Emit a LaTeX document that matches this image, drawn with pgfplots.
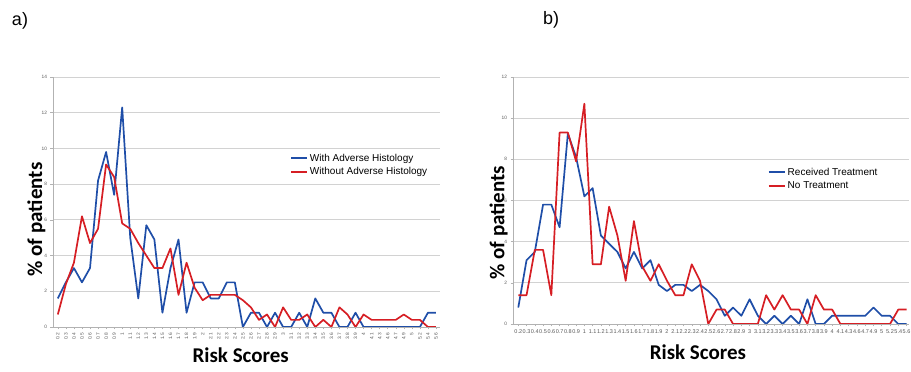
\documentclass[border=0pt]{standalone}
\usepackage{pgfplots}
\pgfplotsset{compat=1.18}
\usepackage{pgfplotstable}
\usepackage{fontspec}
\setmainfont{Liberation Sans}
\newfontfamily\calibri{Carlito}
\definecolor{bl}{RGB}{31,78,168}
\definecolor{rd}{RGB}{214,30,36}
\definecolor{gridc}{RGB}{210,210,210}
\definecolor{tickc}{RGB}{89,89,89}

\pgfplotstableread{
i blue red
0 1.6 0.7
1 2.5 2.4
2 3.3 3.6
3 2.5 6.2
4 3.3 4.7
5 8.2 5.5
6 9.8 9.1
7 7.4 8.4
8 12.3 5.8
9 5.0 5.5
10 1.6 4.7
11 5.7 4.0
12 4.9 3.3
13 0.8 3.3
14 3.3 4.4
15 4.9 1.8
16 0.8 3.6
17 2.5 2.2
18 2.5 1.5
19 1.6 1.8
20 1.6 1.8
21 2.5 1.8
22 2.5 1.8
23 0 1.5
24 0.8 1.1
25 0.8 0.4
26 0 0.7
27 0.8 0
28 0 1.1
29 0 0.4
30 0.8 0.4
31 0 0.7
32 1.6 0
33 0.8 0.4
34 0.8 0
35 0 1.1
36 0 0.7
37 0.8 0
38 0 0.7
39 0 0.4
40 0 0.4
41 0 0.4
42 0 0.4
43 0 0.7
44 0 0.4
45 0 0.4
46 0.8 0
47 0.8 0
}\leftdata

\pgfplotstableread{
i blue red
0 0.8 1.4
1 3.1 1.4
2 3.5 3.6
3 5.8 3.6
4 5.8 1.4
5 4.7 9.3
6 9.25 9.3
7 8.1 7.9
8 6.2 10.7
9 6.6 2.9
10 4.3 2.9
11 3.9 5.7
12 3.5 4.3
13 2.7 2.1
14 3.5 5.0
15 2.7 2.8
16 3.1 2.1
17 1.9 2.9
18 1.6 2.1
19 1.9 1.4
20 1.9 1.4
21 1.6 2.9
22 1.9 2.1
23 1.6 0
24 1.2 0.7
25 0.4 0.7
26 0.8 0
27 0.4 0
28 1.2 0
29 0.4 0
30 0 1.4
31 0.4 0.7
32 0 1.4
33 0.4 0.7
34 0 0.7
35 1.2 0
36 0 1.4
37 0 0.7
38 0.4 0.7
39 0.4 0
40 0.4 0
41 0.4 0
42 0.4 0
43 0.8 0
44 0.4 0
45 0.4 0
46 0 0.7
47 0 0.7
}\rightdata

\pgfplotsset{
 mystyle/.style={
  scale only axis,
  axis x line*=bottom, axis y line*=left,
  axis line style={draw=gray!60, line width=0.6pt, -},
  ymajorgrids, grid style={gridc, line width=0.8pt},
  tick align=outside, major tick length=2.5pt,
  tick style={gray!60, line width=0.5pt},
  xtick={0,...,47},
  xticklabels={0.2,0.3,0.4,0.5,0.6,0.7,0.8,0.9,1,1.1,1.2,1.3,1.4,1.5,1.6,1.7,1.8,1.9,2,2.1,2.2,2.3,2.4,2.5,2.6,2.7,2.8,2.9,3,3.1,3.2,3.3,3.4,3.5,3.6,3.7,3.8,3.9,4,4.1,4.3,4.6,4.7,4.9,5,5.2,5.4,5.6},
  ticklabel style={font=\fontsize{4.8}{5}\selectfont, text=tickc},
  /pgf/number format/assume math mode=true,
  ymin=0,
  legend cell align=left,
  legend style={draw=none, fill=none, font=\fontsize{10}{12}\selectfont, row sep=1pt, inner sep=1pt},
  legend image code/.code={\draw[#1] (0pt,0pt) -- (12pt,0pt); \path (0pt,0pt) -- (16pt,0pt);},
  xlabel style={font=\calibri\bfseries\fontsize{21}{24}\selectfont, anchor=center},
  ylabel style={font=\calibri\bfseries\fontsize{21}{24}\selectfont, anchor=center},
  every axis plot/.append style={line width=1.7pt, mark=none, line join=round},
 }
}

\begin{document}
\begin{tikzpicture}[x=1pt,y=1pt]
\useasboundingbox (0,0) rectangle (911,372);
\node[font=\fontsize{18}{20}\selectfont] at (20,351) {a)};
\node[font=\fontsize{18}{20}\selectfont] at (551,352) {b)};

\begin{axis}[mystyle,
  at={(53pt,45pt)}, anchor=south west,
  width=387pt, height=250pt,
  xmin=-0.6, xmax=47.5, ymax=14,
  ytick={0,2,...,14},
  x tick label style={rotate=90, anchor=east},
  xlabel={Risk Scores},
  xlabel style={at={(axis description cs:0.485,-0.112)}},
  ylabel={\% of patients},
  ylabel style={at={(axis description cs:-0.043,0.43)}},
  legend style={at={(axis description cs:0.61,0.705)}, anchor=north west},
]
\addplot[bl] table[x=i,y=blue] {\leftdata};
\addlegendentry{With Adverse Histology}
\addplot[rd] table[x=i,y=red] {\leftdata};
\addlegendentry{Without Adverse Histology}
\end{axis}

\begin{axis}[mystyle,
  at={(513pt,48pt)}, anchor=south west,
  width=396pt, height=247pt,
  xmin=-0.64, xmax=47.3, ymax=12,
  ytick={0,2,...,12},
  x tick label style={font=\fontsize{5.5}{6}\selectfont},
  xlabel={Risk Scores},
  xlabel style={at={(axis description cs:0.467,-0.113)}},
  ylabel={\% of patients},
  ylabel style={at={(axis description cs:-0.036,0.41)}},
  legend style={at={(axis description cs:0.641,0.645)}, anchor=north west},
]
\addplot[bl] table[x=i,y=blue] {\rightdata};
\addlegendentry{Received Treatment}
\addplot[rd] table[x=i,y=red] {\rightdata};
\addlegendentry{No Treatment}
\end{axis}
\end{tikzpicture}
\end{document}
